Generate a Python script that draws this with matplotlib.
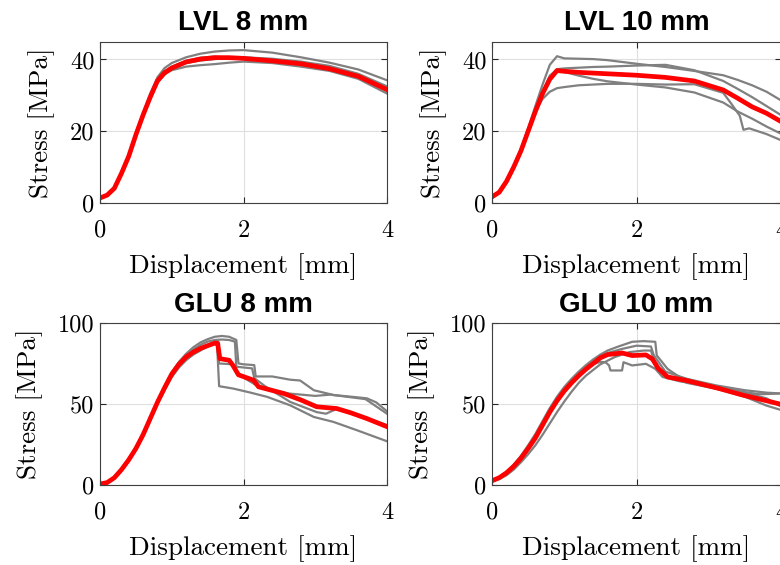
import matplotlib
matplotlib.use('Agg')
import matplotlib.pyplot as plt

# ---------------- data ----------------
titles = ['LVL 8 mm', 'LVL 10 mm', 'GLU 8 mm', 'GLU 10 mm']
x_ticks = [0, 2, 4]
x_tick_labels = ['0', '2', '4']
y_ticks_lvl = [0, 20, 40]
y_ticks_glu = [0, 50, 100]
y_max_lvl = 45
y_max_glu = 100

# LVL 8 mm
lvl8_x = [0, 0.1, 0.2, 0.3, 0.4, 0.5, 0.6, 0.7, 0.8, 0.9, 1.0, 1.2, 1.4, 1.6, 1.8, 2.0, 2.4, 2.8, 3.2, 3.6, 4.0]
lvl8_mean = [1.4, 2.2, 4.1, 8.3, 13, 19, 24.5, 29.5, 34, 36.3, 37.6, 39.3, 40.1, 40.5, 40.5, 40.3, 39.6, 38.8, 37.4, 35.3, 31.6]
lvl8_s1 = [1.3, 2.1, 4.0, 8.2, 13, 19.2, 25, 30.5, 35, 37.6, 39, 40.6, 41.6, 42.2, 42.5, 42.6, 41.9, 40.6, 39.1, 37.2, 34.2]
lvl8_s2 = [1.5, 2.3, 4.2, 8.5, 13.2, 19, 24.2, 29, 33.5, 35.8, 37, 38, 38.4, 38.7, 39.1, 39.4, 39, 38, 36.8, 34.6, 30.5]
lvl8_s3 = [1.4, 2.2, 4.1, 8.3, 13, 19, 24.5, 29.8, 34.3, 36.6, 38, 39.6, 40.5, 40.8, 40.5, 40.1, 39.6, 39, 37.8, 35.6, 31.2]
lvl8_s4 = [1.4, 2.2, 4.1, 8.2, 12.9, 18.8, 24.3, 29.3, 33.8, 36.2, 37.5, 39, 39.7, 40.1, 40.4, 40.6, 40.2, 39.4, 38.2, 36, 32.5]

# LVL 10 mm
lvl10_x = [0, 0.1, 0.2, 0.3, 0.4, 0.5, 0.6, 0.7, 0.8, 0.9, 1.0, 1.2, 1.4, 1.6, 2.0, 2.4, 2.8, 3.2, 3.4, 3.6, 3.8, 4.0]
lvl10_mean = [1.7, 3, 6, 10, 14.5, 20, 25.5, 30.5, 34.5, 36.9, 36.7, 36.4, 36.2, 36, 35.6, 35, 34, 31.5, 29.2, 26.8, 25, 22.7]
lvl10_s1 = [1.7, 3, 6, 10.2, 15, 20.8, 27, 33, 38.5, 40.9, 40.3, 40.2, 40.1, 39.8, 38.8, 37.9, 36.8, 35.6, 34.3, 32.8, 31, 28.6]
lvl10_s2 = [1.7, 3, 6, 10, 14.5, 20, 26, 31, 35, 37.3, 37.5, 37.7, 37.9, 38, 38.3, 38.5, 37, 34, 31.8, 29.5, 27, 24.5]
lvl10_s3 = [1.7, 3, 6, 10, 14.5, 20, 26, 31, 35.5, 37.2, 36.5, 35.5, 34.6, 33.9, 33, 32.2, 30.8, 28, 25.5, 23.5, 21.3, 19.3]
lvl10_s4_x = [0, 0.1, 0.2, 0.3, 0.4, 0.5, 0.6, 0.7, 0.8, 0.9, 1.0, 1.2, 1.4, 1.6, 2.0, 2.4, 2.8, 3.2, 3.3, 3.43, 3.48, 3.56, 3.8, 4.0]
lvl10_s4 = [1.7, 3, 6, 10, 14.5, 20, 25.5, 29, 31, 32, 32.3, 32.8, 33, 33.2, 33.2, 33, 33.1, 30.7, 28, 24.3, 20.4, 20.8, 19.2, 17.5]

# GLU 8 mm
glu8_mean_x = [0, 0.1, 0.2, 0.3, 0.4, 0.5, 0.6, 0.7, 0.8, 0.9, 1.0, 1.1, 1.2, 1.3, 1.4, 1.5, 1.6, 1.64, 1.67, 1.8, 1.85, 1.93, 2.14, 2.21, 2.56, 2.8, 3.02, 3.3, 3.5, 3.72, 4.0]
glu8_mean = [0.6, 1.5, 4.5, 9.5, 15.5, 22.5, 31, 41, 51, 60, 68.5, 74.5, 79, 82, 84.3, 86, 87.6, 87.5, 78, 77, 74, 68, 64.7, 60.6, 56.5, 52.5, 48.3, 47.2, 44.5, 41, 36]
glu8_s1_x = [0, 0.1, 0.2, 0.3, 0.4, 0.5, 0.6, 0.7, 0.8, 0.9, 1.0, 1.1, 1.2, 1.3, 1.4, 1.5, 1.6, 1.7, 1.8, 1.9, 1.93, 2.0, 2.15, 2.17, 2.4, 2.65, 2.79, 2.98, 3.26, 3.5, 3.72, 3.85, 4.0]
glu8_s1 = [0.5, 1.5, 4.5, 9.5, 15.5, 22.5, 31.5, 41.5, 51.5, 61, 69.5, 76, 81, 85, 88, 90, 91.5, 92, 91.5, 89.5, 75, 74.5, 74, 67, 67, 65, 64.5, 58.5, 55.5, 54.5, 53.5, 51, 45.5]
glu8_s2_x = [0, 0.1, 0.2, 0.3, 0.4, 0.5, 0.6, 0.7, 0.8, 0.9, 1.0, 1.1, 1.2, 1.3, 1.4, 1.5, 1.6, 1.63, 1.66, 1.86, 2.1, 2.33, 2.65, 2.98, 3.25, 3.6, 4.0]
glu8_s2 = [0.5, 1.3, 4, 9, 15, 22, 30, 40, 50, 58.5, 66.5, 72.5, 77, 80.5, 83, 85.5, 87.5, 88, 61, 59.5, 57, 54.4, 49.2, 42, 39, 33.5, 27]
glu8_s3_x = [0, 0.1, 0.2, 0.3, 0.4, 0.5, 0.6, 0.7, 0.8, 0.9, 1.0, 1.1, 1.2, 1.3, 1.4, 1.5, 1.6, 1.7, 1.8, 1.88, 1.9, 2.12, 2.15, 2.3, 2.65, 3.02, 3.15, 3.3, 3.6, 4.0]
glu8_s3 = [0.6, 1.6, 4.8, 10, 16, 23, 31.5, 41, 51, 60, 68, 74.5, 79.5, 83.5, 86.5, 88.5, 89.5, 89.8, 89.5, 88.5, 73, 72, 66, 61, 51.3, 45, 44, 47, 43, 37]
glu8_s4_x = [0, 0.1, 0.2, 0.3, 0.4, 0.5, 0.6, 0.7, 0.8, 0.9, 1.0, 1.1, 1.2, 1.3, 1.4, 1.5, 1.6, 1.63, 1.66, 1.86, 1.9, 2.2, 2.4, 2.65, 3.0, 3.21, 3.7, 4.0]
glu8_s4 = [0.6, 1.5, 4.4, 9.3, 15.2, 22.2, 30.5, 40.5, 50.5, 59.5, 67.5, 73.5, 78, 81.5, 84, 86, 87.8, 88, 75, 74.5, 69, 61, 58.5, 56.4, 55, 55.8, 53, 44]

# GLU 10 mm
glu10_mean_x = [0, 0.1, 0.2, 0.3, 0.4, 0.5, 0.6, 0.7, 0.8, 0.9, 1.0, 1.1, 1.2, 1.3, 1.4, 1.5, 1.6, 1.7, 1.8, 1.94, 2.13, 2.22, 2.3, 2.43, 2.68, 3.14, 3.47, 3.8, 4.0]
glu10_mean = [2.6, 4.5, 7.5, 11.5, 16.5, 22.5, 29, 37, 45, 52, 58, 63, 67.5, 71.5, 75, 78.5, 80.5, 81, 81.5, 79.9, 80.3, 77.8, 72, 66.7, 64.6, 59.6, 55.5, 52, 49.8]
glu10_s1_x = [0, 0.1, 0.2, 0.3, 0.4, 0.5, 0.6, 0.7, 0.8, 0.9, 1.0, 1.1, 1.2, 1.3, 1.4, 1.5, 1.6, 1.75, 1.94, 2.1, 2.26, 2.28, 2.43, 2.6, 2.9, 3.2, 3.5, 3.8, 4.0]
glu10_s1 = [2.4, 4.6, 8, 12.5, 18, 24.5, 31.5, 39.5, 47.5, 54.5, 60.5, 65.5, 70, 74, 77.5, 80.5, 83, 85.5, 88.4, 88.8, 88.4, 80, 71.7, 66.5, 63, 60, 57, 53.5, 48.5]
glu10_s2_x = [0, 0.1, 0.2, 0.3, 0.4, 0.5, 0.6, 0.7, 0.8, 0.9, 1.0, 1.1, 1.2, 1.3, 1.4, 1.5, 1.57, 1.62, 1.64, 1.8, 1.82, 1.94, 2.13, 2.26, 2.36, 2.6, 3.0, 3.4, 3.7, 4.0]
glu10_s2 = [2.6, 4.6, 7.8, 12, 17.5, 23.5, 30.5, 38.5, 46.5, 53.5, 59.5, 64.5, 68.5, 72, 74.5, 76, 75.8, 73.8, 70.7, 70.7, 75.8, 73.8, 74.8, 71.7, 66.7, 64, 62, 58, 56, 56.5]
glu10_s3_x = [0, 0.1, 0.2, 0.3, 0.4, 0.5, 0.6, 0.7, 0.8, 0.9, 1.0, 1.1, 1.2, 1.3, 1.5, 1.7, 1.9, 2.1, 2.2, 2.25, 2.4, 2.7, 3.1, 3.5, 3.8, 4.0]
glu10_s3 = [2.2, 3.6, 6, 9.5, 14, 19, 24.5, 31, 38, 45, 51.5, 57.5, 63, 67.5, 74.5, 79, 82, 83, 83, 76, 67, 63, 59.5, 54.5, 49, 46.3]
glu10_s4_x = [0, 0.1, 0.2, 0.3, 0.4, 0.5, 0.6, 0.7, 0.8, 0.9, 1.0, 1.1, 1.2, 1.3, 1.4, 1.5, 1.6, 1.8, 2.0, 2.2, 2.24, 2.4, 2.7, 3.1, 3.5, 3.8, 4.0]
glu10_s4 = [2.5, 4.4, 7.4, 11.5, 16.5, 22.5, 29.5, 37, 45, 52, 58.5, 64, 68.5, 72.5, 76, 79, 81.5, 84, 86, 85.5, 80, 70, 65.5, 61.5, 58.5, 57, 56.5]

panels = [
    dict(title=titles[0], yticks=y_ticks_lvl, ymax=y_max_lvl,
         grey=[(lvl8_x, lvl8_s1), (lvl8_x, lvl8_s2), (lvl8_x, lvl8_s3), (lvl8_x, lvl8_s4)],
         mean=(lvl8_x, lvl8_mean)),
    dict(title=titles[1], yticks=y_ticks_lvl, ymax=y_max_lvl,
         grey=[(lvl10_x, lvl10_s1), (lvl10_x, lvl10_s2), (lvl10_x, lvl10_s3), (lvl10_s4_x, lvl10_s4)],
         mean=(lvl10_x, lvl10_mean)),
    dict(title=titles[2], yticks=y_ticks_glu, ymax=y_max_glu,
         grey=[(glu8_s1_x, glu8_s1), (glu8_s2_x, glu8_s2), (glu8_s3_x, glu8_s3), (glu8_s4_x, glu8_s4)],
         mean=(glu8_mean_x, glu8_mean)),
    dict(title=titles[3], yticks=y_ticks_glu, ymax=y_max_glu,
         grey=[(glu10_s1_x, glu10_s1), (glu10_s2_x, glu10_s2), (glu10_s3_x, glu10_s3), (glu10_s4_x, glu10_s4)],
         mean=(glu10_mean_x, glu10_mean)),
]

# ---------------- figure ----------------
W, H = 780, 565
fig = plt.figure(figsize=(W / 100, H / 100), dpi=100)
boxes = [(100, 41.5, 387, 203), (492, 41.5, 781, 203),
         (100, 323, 387, 485), (492, 323, 781, 485)]

serif = 'cmr10'
for p, (l, t, r, b) in zip(panels, boxes):
    ax = fig.add_axes([l / W, (H - b) / H, (r - l) / W, (b - t) / H])
    for gx, gy in p['grey']:
        ax.plot(gx, gy, color='#808080', lw=1.6, solid_joinstyle='round')
    mx, my = p['mean']
    ax.plot(mx, my, color='#ff0000', lw=3.4, solid_joinstyle='round')
    ax.set_xlim(0, 4)
    ax.set_ylim(0, p['ymax'])
    ax.set_xticks(x_ticks)
    ax.set_xticklabels(x_tick_labels, fontfamily=serif, fontsize=17.5)
    ax.set_yticks(p['yticks'])
    ax.set_yticklabels([str(v) for v in p['yticks']], fontfamily=serif, fontsize=17.5)
    ax.grid(True, color='#dfdfdf', lw=0.8)
    ax.set_axisbelow(True)
    ax.tick_params(axis='both', direction='in', top=True, right=True,
                   length=4, width=0.8, color='#262626')
    ax.tick_params(axis='x', pad=12)
    ax.tick_params(axis='y', pad=4)
    for s in ax.spines.values():
        s.set_color('#404040')
        s.set_linewidth(0.8)
    ax.set_xlabel('Displacement [mm]', fontfamily=serif, fontsize=19.5, labelpad=8)
    ax.set_ylabel('Stress [MPa]', fontfamily=serif, fontsize=19.5, labelpad=10.5)
    ax.set_title(p['title'], fontfamily='Liberation Sans', fontweight='bold',
                 fontsize=20, pad=8)

fig.savefig('out.png', dpi=100)
